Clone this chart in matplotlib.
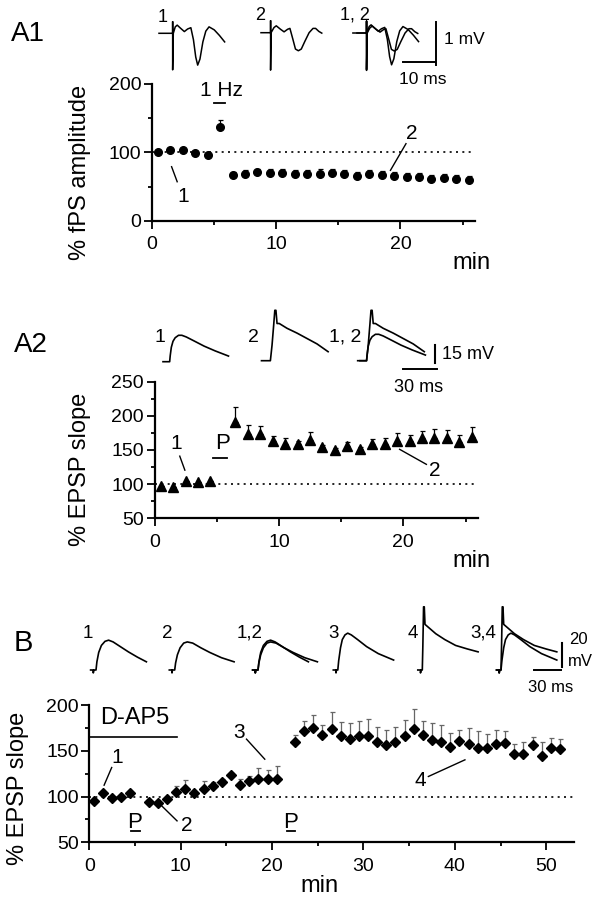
"""Time course of fPS amplitude / EPSP slope (panels A1, A2, B) with sample traces."""

import matplotlib
matplotlib.use("Agg")
import matplotlib.pyplot as plt
import numpy as np

plt.rcParams["font.family"] = ["Liberation Sans", "DejaVu Sans"]

W, H = 602, 900  # figure size in pixels (dpi 100)

# ---------------- A1: % fPS amplitude, 1 Hz ----------------
A1_T = [0.5, 1.5, 2.5, 3.5, 4.5, 5.5, 6.5, 7.5, 8.5, 9.5, 10.5, 11.5, 12.5,
        13.5, 14.5, 15.5, 16.5, 17.5, 18.5, 19.5, 20.5, 21.5, 22.5, 23.5, 24.5, 25.5]
A1_Y = [100, 103, 103, 98.5, 96, 137, 67.5, 69, 71, 70.5, 70, 68, 68,
        69, 70, 68.5, 66, 68.5, 67.5, 65.5, 64, 64, 61.5, 62, 61.5, 59]
A1_E = [1, 1, 1, 1, 1, 11, 4, 5, 5, 5, 5, 6, 6,
        6, 6, 5, 5, 5, 5, 6, 6, 6, 6, 6, 6, 7]

# ---------------- A2: % EPSP slope, pairing ----------------
A2_T = [0.5, 1.5, 2.5, 3.5, 4.5, 6.5, 7.5, 8.5, 9.5, 10.5, 11.5, 12.5, 13.5,
        14.5, 15.5, 16.5, 17.5, 18.5, 19.5, 20.5, 21.5, 22.5, 23.5, 24.5, 25.5]
A2_Y = [97, 96, 104, 103, 105, 191, 174, 173, 163, 159.5, 158.5, 165, 155,
        150, 156, 151, 159.5, 158.5, 163, 163, 167, 167, 167, 161, 169]
A2_E = [0, 0, 0, 0, 0, 22, 12, 12, 7, 7.5, 4, 11.6, 3,
        3, 6, 3, 6, 9.5, 11.6, 9, 11, 13.5, 12, 10.7, 14]

# ---------------- B: % EPSP slope, D-AP5 then pairing ----------------
B_T = [0.5, 1.5, 2.5, 3.5, 4.5,
       6.5, 7.5, 8.5, 9.5, 10.5, 11.5, 12.5, 13.5, 14.5, 15.5, 16.5, 17.5, 18.5, 19.5, 20.5,
       22.5, 23.5, 24.5, 25.5, 26.5, 27.5, 28.5, 29.5, 30.5, 31.5, 32.5, 33.5, 34.5, 35.5,
       36.5, 37.5, 38.5, 39.5, 40.5, 41.5, 42.5, 43.5, 44.5, 45.5, 46.5, 47.5, 48.5, 49.5,
       50.5, 51.5]
B_Y = [95.3, 103.6, 98.9, 100, 103.6,
       94.5, 93.4, 97.1, 105.1, 108.7, 103.6, 108.7, 111.7, 116.4, 123.3, 112.4, 117.1,
       119.7, 119, 119.7,
       159.7, 172, 175, 167.4, 174, 166.3, 162.7, 165.6, 165.6, 160, 156.5, 159.4, 165.6,
       173.6, 167.4, 161.9, 160, 154.6, 160.8, 157.2, 152.8, 152.8, 157.2, 158.3, 146.3,
       146.6, 156.5, 144.8, 153.5, 152]
B_E = [0, 0, 0, 0, 0,
       0, 0, 0, 6, 9, 0, 8, 4, 3, 2, 7, 5, 11, 10, 14,
       8, 10, 14, 11, 18, 15, 18, 17, 19, 16, 16, 17, 18, 22, 15, 18, 18, 15, 12, 18,
       19, 16, 16, 13, 11, 13, 9, 15, 10, 11]

# ---------------- sample traces (ms, mV) ----------------
A1_TR1_T = [0, 4.2, 4.2, 4.2, 4.4, 5.0, 5.6, 6.6, 7.8, 8.8, 9.8, 10.6, 11.3, 11.9,
            12.6, 13.5, 14.4, 15.4, 17.0, 18.6, 20.2]
A1_TR1_V = [0, 0, 0.27, -0.85, 0.0, 0.15, 0.19, 0.12, 0.04, 0.10, 0.13, -0.15, -0.55,
            -0.74, -0.6, -0.2, 0.05, 0.15, 0.08, -0.05, -0.2]
A1_TR2_T = [0, 2.95, 2.95, 2.95, 3.1, 4.0, 4.7, 6.0, 7.1, 8.2, 8.9, 9.8, 10.6, 11.5,
            12.4, 13.5, 14.8, 16.0, 16.8, 17.8, 18.7]
A1_TR2_V = [0, 0, 0.28, -0.87, 0.0, 0.12, 0.16, 0.08, 0.02, 0.08, 0.1, -0.15, -0.38,
            -0.42, -0.38, -0.2, 0.0, 0.1, 0.1, 0.03, -0.01]

A2_TR1_T = [0, 6, 6.5, 7.5, 9, 11, 14, 17, 21, 28, 37, 47, 59]
A2_TR1_V = [0, 0, 5, 12, 17, 20, 22, 22, 20.6, 17.3, 13, 9, 4.7]
A2_TR2_T = [0, 8, 9.5, 11, 12, 13, 14, 16, 23, 32, 41, 50, 60]
A2_TR2_V = [0, 0, 13, 30, 42, 42, 31, 31, 27, 23, 18.5, 14, 7.5]

B_TR1_T = [0, 3, 3, 3.5, 6, 7, 9, 12, 16, 20, 25, 32, 42, 52, 62]
B_TR1_V = [0, 0, -2.5, 0, 0, 7, 15, 21, 24.5, 25.5, 24, 20.5, 15.5, 11, 7]
B_TR2_T = [0, 3, 3, 3.5, 6, 7, 9, 12, 16, 20, 26, 35, 45, 58, 72]
B_TR2_V = [0, 0, -2.5, 0, 0, 6, 13, 19, 23, 24, 23, 19, 15, 10.5, 7]
B_TR3_T = [0, 3, 3, 3.5, 5, 6, 8, 10, 13, 16, 20, 27, 37, 50, 67]
B_TR3_V = [0, 0, -2.5, 0, 0, 8, 19, 26, 30, 31.5, 30, 26, 20, 14, 8.5]
B_TR4_T = [0, 3, 3, 3.5, 5, 5.6, 6.4, 7.2, 8.0, 9.5, 11, 14, 20, 30, 42, 55, 67]
B_TR4_V = [0, 0, -2.5, 0, 0, 20, 54, 54, 39, 38, 37, 35, 31, 26, 21, 18, 15.5]

# numbered call-outs: (label, text xy, line start, line end) in data units
A1_NOTES = [("1", (2.53, 35), (1.6, 79), (2.05, 57)),
            ("2", (20.9, 127), (20.45, 112.7), (19.2, 73.7))]
A2_NOTES = [("1", (1.77, 159.5), (2.03, 141), (2.44, 120.5)),
            ("2", (22.5, 119.5), (19.7, 151), (21.85, 129))]
B_NOTES = [("1", (3.06, 142.6), (2.45, 131.7), (1.62, 112.4)),
           ("2", (10.65, 68), (7.74, 91.6), (9.6, 73.4)),
           ("3", (16.4, 170), (17.2, 162.7), (19.2, 140.8)),
           ("4", (36.2, 118), (37.1, 121.9), (41.1, 140.1))]

DOTS = (0, (1.2, 2.6))


def px_text(fig, x, y, s, **kw):
    kw.setdefault("ha", "center")
    kw.setdefault("va", "center")
    return fig.text(x / W, 1 - y / H, s, **kw)


def panel_axes(fig, left, right, bottom, top, xlim, ylim):
    ax = fig.add_axes([left / W, 1 - bottom / H, (right - left) / W, (bottom - top) / H])
    ax.set_xlim(*xlim)
    ax.set_ylim(*ylim)
    ax.patch.set_alpha(0)
    for s in ("top", "right"):
        ax.spines[s].set_visible(False)
    for s in ("left", "bottom"):
        ax.spines[s].set_linewidth(1.6)
    ax.tick_params(which="both", direction="out", width=1.3, labelsize=14)
    ax.tick_params(which="major", length=6)
    ax.tick_params(which="minor", length=3)
    ax.tick_params(axis="x", pad=5)
    ax.tick_params(axis="y", pad=1.5)
    return ax


def trace_axes(fig, left, base, px_ms, px_mv, t_span, v_lo, v_hi):
    ax = fig.add_axes([left / W, 1 - (base - v_lo * px_mv) / H,
                       t_span * px_ms / W, (v_hi - v_lo) * px_mv / H])
    ax.set_xlim(0, t_span)
    ax.set_ylim(v_lo, v_hi)
    ax.set_axis_off()
    return ax


def draw_notes(ax, notes, size=15):
    for label, txt, p0, p1 in notes:
        ax.plot([p0[0], p1[0]], [p0[1], p1[1]], color="k", lw=1.0, clip_on=False)
        ax.text(txt[0], txt[1], label, fontsize=size, ha="center", va="center")


def stim_bar(ax, x0, x1, y, label, tx, ty, size=15):
    ax.plot([x0, x1], [y, y], color="k", lw=1.3, clip_on=False)
    ax.text(tx, ty, label, fontsize=size, ha="center", va="center")


def panel_a1(fig):
    ax = panel_axes(fig, 151.7, 475, 220.7, 84, (0, 26), (0, 200))
    ax.set_xticks([0, 10, 20])
    ax.set_xticks([5, 15, 25], minor=True)
    ax.set_yticks([0, 100, 200])
    ax.set_yticks([50, 150], minor=True)
    ax.hlines(100, 0, 26, colors="k", linestyles=DOTS, lw=1.2)
    ax.errorbar(A1_T, A1_Y, yerr=[np.zeros(len(A1_E)), A1_E], fmt="o", ms=5.5,
                color="k", ecolor="k", elinewidth=0.9, capsize=1.8, capthick=0.9,
                clip_on=False)
    stim_bar(ax, 5.0, 5.9, 171.7, "1 Hz", 5.6, 191)
    draw_notes(ax, A1_NOTES)
    px_text(fig, 80, 172, "% fPS amplitude", rotation=90, fontsize=17)
    px_text(fig, 471, 263, "min", fontsize=17)
    px_text(fig, 28, 34, "A1", fontsize=20)

    # traces: 3.25 px per ms, 43 px per mV
    pm, pv = 3.25, 43
    t1 = trace_axes(fig, 159, 33.3, pm, pv, 22, -0.9, 0.35)
    t1.plot(A1_TR1_T, A1_TR1_V, color="k", lw=1.1, clip_on=False)
    t2 = trace_axes(fig, 261, 32.7, pm, pv, 22, -0.9, 0.35)
    t2.plot(A1_TR2_T, A1_TR2_V, color="k", lw=1.1, clip_on=False)
    t3 = trace_axes(fig, 352.9, 33, pm, pv, 27, -1.0, 0.35)
    t3.plot(A1_TR1_T, A1_TR1_V, color="k", lw=1.1, clip_on=False)
    t3.plot(np.array(A1_TR2_T) + 1.25, A1_TR2_V, color="k", lw=1.1, clip_on=False)
    t3.plot([25.5, 25.5], [-0.74, 0.26], color="k", lw=1.4, clip_on=False)
    t3.plot([15.4, 25.4], [-0.67, -0.67], color="k", lw=1.4, clip_on=False)
    px_text(fig, 163, 17, "1", fontsize=13)
    px_text(fig, 260, 15, "2", fontsize=13)
    px_text(fig, 355, 15, "1, 2", fontsize=13)
    px_text(fig, 444, 39.5, "1 mV", fontsize=12.5, ha="left")
    px_text(fig, 423, 79, "10 ms", fontsize=12.5)


def panel_a2(fig):
    ax = panel_axes(fig, 154.5, 478, 518.3, 381.7, (0, 26), (50, 250))
    ax.set_xticks([0, 10, 20])
    ax.set_xticks([5, 15, 25], minor=True)
    ax.set_yticks([50, 100, 150, 200, 250])
    ax.set_yticks([75, 125, 175, 225], minor=True)
    ax.hlines(100, 0, 26, colors="k", linestyles=DOTS, lw=1.2)
    ax.errorbar(A2_T, A2_Y, yerr=[np.zeros(len(A2_E)), A2_E], fmt="^", ms=6.5,
                color="k", ecolor="k", elinewidth=0.9, capsize=1.8, capthick=0.9,
                clip_on=False)
    stim_bar(ax, 4.7, 5.8, 139, "P", 5.46, 159.5, size=16)
    draw_notes(ax, A2_NOTES)
    px_text(fig, 80, 469, "% EPSP slope", rotation=90, fontsize=17)
    px_text(fig, 471, 561, "min", fontsize=17)
    px_text(fig, 31, 345, "A2", fontsize=20)

    # traces: 1.11 px per ms, 1.2 px per mV
    pm, pv = 1.11, 1.2
    t1 = trace_axes(fig, 163, 361.7, pm, pv, 62, -3, 45)
    t1.plot(A2_TR1_T, A2_TR1_V, color="k", lw=1.2, clip_on=False)
    t2 = trace_axes(fig, 261.5, 360.7, pm, pv, 62, -3, 45)
    t2.plot(A2_TR2_T, A2_TR2_V, color="k", lw=1.2, clip_on=False)
    t3 = trace_axes(fig, 359.9, 360.7, pm, pv, 72, -9, 45)
    t3.plot(A2_TR1_T, A2_TR1_V, color="k", lw=1.2, clip_on=False)
    t3.plot(np.array(A2_TR2_T) - 2, A2_TR2_V, color="k", lw=1.2, clip_on=False)
    t3.plot([67.7, 67.7], [-2, 13], color="k", lw=1.5, clip_on=False)
    t3.plot([39.1, 69.1], [-7.2, -7.2], color="k", lw=1.4, clip_on=False)
    px_text(fig, 159.5, 337, "1", fontsize=14)
    px_text(fig, 253.5, 337, "2", fontsize=14)
    px_text(fig, 345.5, 337, "1, 2", fontsize=14)
    px_text(fig, 441.5, 355, "15 mV", fontsize=13, ha="left")
    px_text(fig, 418.5, 388, "30 ms", fontsize=13)


def panel_b(fig):
    ax = panel_axes(fig, 89.3, 573.7, 842.3, 705, (0, 53), (50, 200))
    ax.set_xticks([0, 10, 20, 30, 40, 50])
    ax.set_xticks([5, 15, 25, 35, 45], minor=True)
    ax.set_yticks([50, 100, 150, 200])
    ax.set_yticks([75, 125, 175], minor=True)
    ax.hlines(100, 0, 53, colors="k", linestyles=DOTS, lw=1.2)
    ax.errorbar(B_T, B_Y, yerr=[np.zeros(len(B_E)), B_E], fmt="D", ms=5,
                color="k", ecolor="0.4", elinewidth=0.9, capsize=1.8, capthick=0.9,
                clip_on=False)
    ax.plot([0, 9.6], [164.5, 164.5], color="k", lw=1.2)
    ax.text(1.15, 186, "D-AP5", fontsize=17, ha="left", va="center")
    stim_bar(ax, 4.6, 5.6, 62.5, "P", 5.0, 71.6, size=16)
    stim_bar(ax, 21.6, 22.5, 62.5, "P", 22.07, 71.6, size=16)
    draw_notes(ax, B_NOTES)
    px_text(fig, 18, 788, "% EPSP slope", rotation=90, fontsize=17)
    px_text(fig, 319, 886, "min", fontsize=17)
    px_text(fig, 23, 643, "B", fontsize=21)

    # traces: 0.9 px per ms, 1.17 px per mV
    pm, pv = 0.9, 1.17
    base = 670
    for left, tt, vv in [(90.6, B_TR1_T, B_TR1_V), (169.3, B_TR2_T, B_TR2_V),
                         (333.3, B_TR3_T, B_TR3_V), (417.8, B_TR4_T, B_TR4_V)]:
        tax = trace_axes(fig, left, base, pm, pv, 80, -4, 56)
        tax.plot(tt, vv, color="k", lw=1.2, clip_on=False)
    o12 = trace_axes(fig, 252.6, base, pm, pv, 80, -4, 56)
    o12.plot(B_TR1_T, B_TR1_V, color="k", lw=1.2, clip_on=False)
    o12.plot(B_TR2_T, B_TR2_V, color="k", lw=1.2, clip_on=False)
    o34 = trace_axes(fig, 496.5, base, pm, pv, 80, -4, 56)
    o34.plot(B_TR3_T, B_TR3_V, color="k", lw=1.2, clip_on=False)
    o34.plot(B_TR4_T, B_TR4_V, color="k", lw=1.2, clip_on=False)
    o34.plot([73.2, 73.2], [2.8, 22.8], color="k", lw=1.5, clip_on=False)
    o34.plot([41.2, 71.2], [0, 0], color="k", lw=1.4, clip_on=False)
    for x, s in [(87.5, "1"), (167, "2"), (249.5, "1,2"), (333.2, "3"),
                 (412.7, "4"), (483.7, "3,4")]:
        px_text(fig, x, 633, s, fontsize=13.5)
    px_text(fig, 578, 640, "20", fontsize=12)
    px_text(fig, 580, 662, "mV", fontsize=12)
    px_text(fig, 551, 688, "30 ms", fontsize=12)


def main():
    fig = plt.figure(figsize=(W / 100, H / 100), dpi=100)
    fig.patch.set_facecolor("white")
    panel_a1(fig)
    panel_a2(fig)
    panel_b(fig)
    fig.savefig("out.png", dpi=100)
    plt.close(fig)


if __name__ == "__main__":
    main()
